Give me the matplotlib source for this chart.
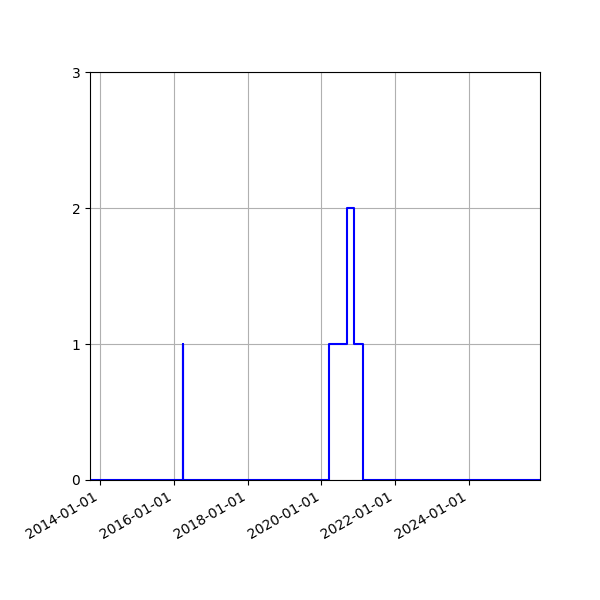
import numpy as np
import pandas as pd
import matplotlib
matplotlib.use('Agg')
import matplotlib.pyplot as plt
import matplotlib.dates as mdates

# Step change points (value holds until next date)
dates = ['2013-09-20', '2016-04-01', '2016-04-03', '2020-03-20',
         '2020-09-13', '2020-11-16', '2021-02-13', '2025-12-07']
counts = [0, 1, 0, 1, 2, 1, 0, 0]

x = pd.to_datetime(dates)

fig, ax = plt.subplots(figsize=(6, 6), dpi=100)
fig.subplots_adjust(left=0.15, right=0.9, bottom=0.2, top=0.88)

ax.plot(x, counts, drawstyle='steps-post', color='b', linewidth=1.5)

ax.set_xlim(x[0], x[-1])
ax.set_ylim(0, 3)
ax.set_yticks([0, 1, 2, 3])
ax.xaxis.set_major_locator(mdates.YearLocator(2))
ax.xaxis.set_major_formatter(mdates.DateFormatter('%Y-%m-%d'))
ax.grid(True)
for lbl in ax.get_xticklabels():
    lbl.set_rotation(30)
    lbl.set_ha('right')

fig.savefig('out.png')
